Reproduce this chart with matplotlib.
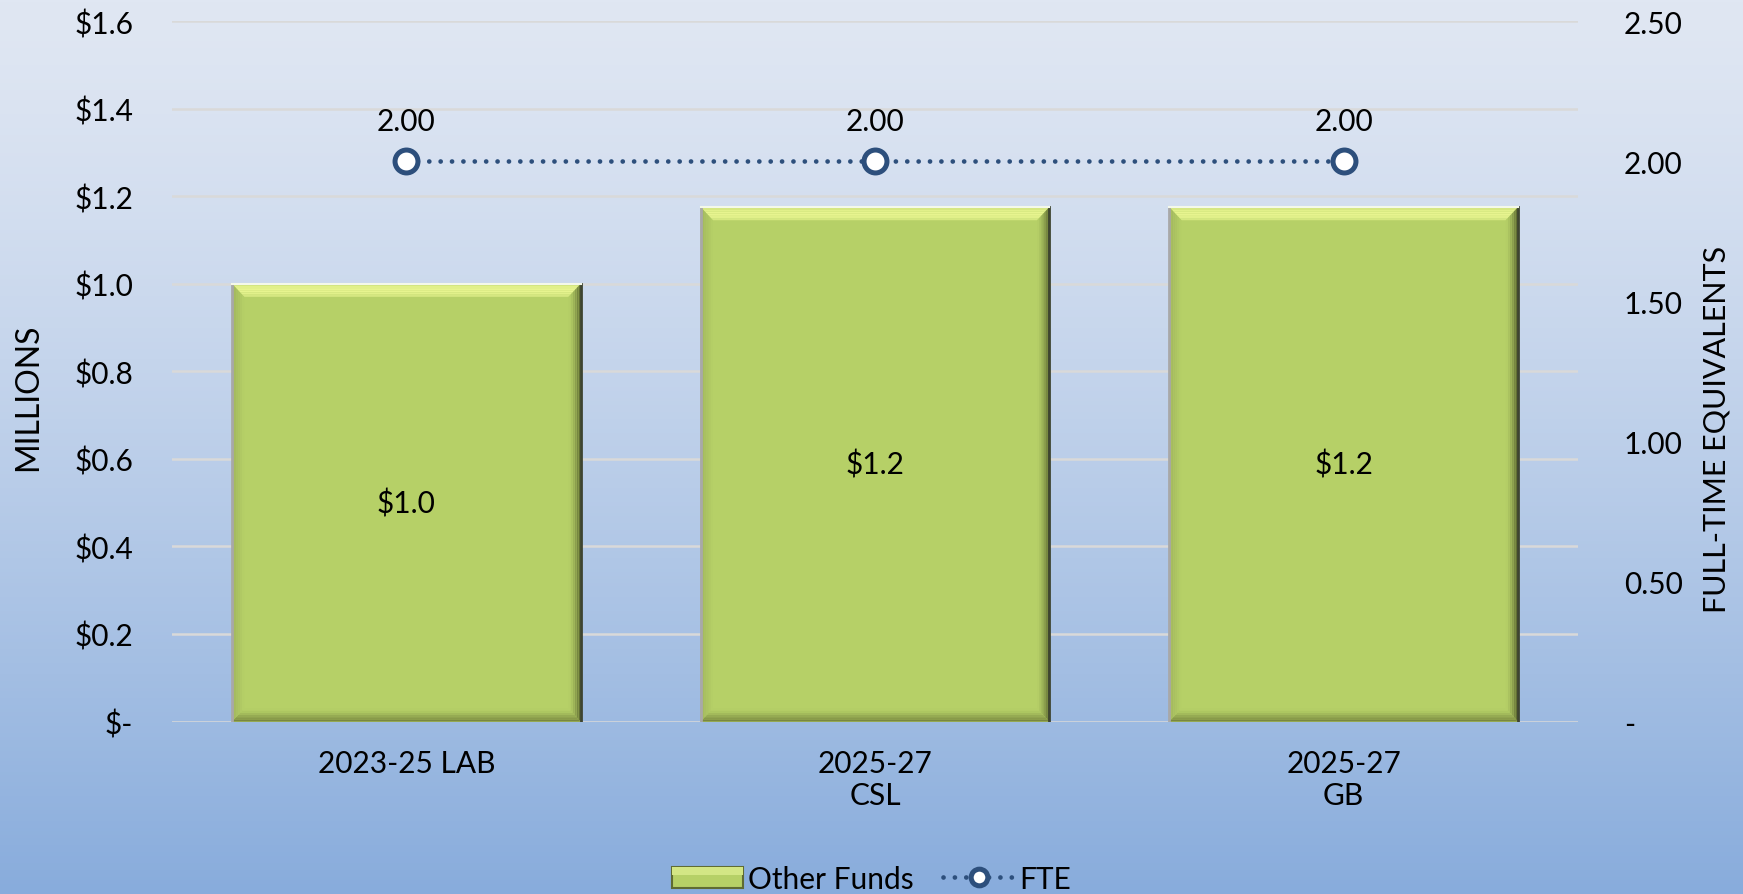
import numpy as np
import matplotlib.pyplot as plt
from matplotlib.patches import Polygon, Rectangle
from matplotlib.lines import Line2D
from matplotlib.legend_handler import HandlerBase
from matplotlib.colors import to_rgb

# data
categories = ['2023-25 LAB', '2025-27\nCSL', '2025-27\nGB']
other_funds = [1.0, 1.175, 1.175]      # millions
fte = [2.0, 2.0, 2.0]
fund_labels = ['$1.0', '$1.2', '$1.2']
fte_labels = ['2.00', '2.00', '2.00']
left_tick_vals = [0, 0.2, 0.4, 0.6, 0.8, 1.0, 1.2, 1.4, 1.6]
left_tick_text = ['$-', '$0.2', '$0.4', '$0.6', '$0.8', '$1.0', '$1.2', '$1.4', '$1.6']
right_tick_vals = [0, 0.5, 1.0, 1.5, 2.0, 2.5]
right_tick_text = ['-', '0.50', '1.00', '1.50', '2.00', '2.50']

GREEN = '#b6d067'
NAVY = '#2d4f7c'
FS = 21.5

plt.rcParams['font.family'] = ['Lato', 'DejaVu Sans']

fig = plt.figure(figsize=(17.43, 8.95), dpi=100)

# background gradient
bg = fig.add_axes([0, 0, 1, 1], zorder=-10)
grad = np.linspace(0, 1, 256).reshape(-1, 1)
top = np.array([224, 231, 243]) / 255
bot = np.array([136, 172, 220]) / 255
img = top + (bot - top) * grad[:, :, None] ** 1.3
bg.imshow(img, aspect='auto', extent=[0, 1, 0, 1])
bg.axis('off')

ax = fig.add_axes([0.0987, 0.1927, 0.8066, 0.7827])
ax.set_facecolor('none')
x = np.arange(len(categories))
width = 0.744

bars = ax.bar(x, other_funds, width, color=GREEN, zorder=3, linewidth=0)


def mix(c1, c2, t):
    a, b = np.array(to_rgb(c1)), np.array(to_rgb(c2))
    return a + (b - a) * t


# bevel effect on each bar (stepped gradient strips)
bx_ = 0.026
by_ = 0.03
n = 6
for b in bars:
    x0, y0 = b.get_x(), b.get_y()
    x1, y1 = x0 + b.get_width(), y0 + b.get_height()
    for k in range(n):
        a, c = k / n, (k + 1) / n
        t = 1 - (k + 0.5) / n      # 1 at outer edge
        # top
        ax.add_patch(Polygon([(x0 + bx_ * a, y1 - by_ * a), (x1 - bx_ * a, y1 - by_ * a),
                              (x1 - bx_ * c, y1 - by_ * c), (x0 + bx_ * c, y1 - by_ * c)],
                             closed=True, color=mix(GREEN, '#e8f590', 0.5 + 0.5 * np.sin(np.pi * (k + 0.5) / n)),
                             lw=0, zorder=4))
        # right
        ax.add_patch(Polygon([(x1 - bx_ * a, y1 - by_ * a), (x1 - bx_ * a, y0 + by_ * a),
                              (x1 - bx_ * c, y0 + by_ * c), (x1 - bx_ * c, y1 - by_ * c)],
                             closed=True, color=mix(GREEN, '#55602c', t ** 1.5), lw=0, zorder=4))
        # bottom
        ax.add_patch(Polygon([(x0 + bx_ * a, y0 + by_ * a), (x1 - bx_ * a, y0 + by_ * a),
                              (x1 - bx_ * c, y0 + by_ * c), (x0 + bx_ * c, y0 + by_ * c)],
                             closed=True, color=mix(GREEN, '#6f7d3a', t ** 1.5), lw=0, zorder=4))
        # left
        ax.add_patch(Polygon([(x0 + bx_ * a, y0 + by_ * a), (x0 + bx_ * a, y1 - by_ * a),
                              (x0 + bx_ * c, y1 - by_ * c), (x0 + bx_ * c, y0 + by_ * c)],
                             closed=True, color=mix(GREEN, '#9fb45c', t), lw=0, zorder=4))
    ax.plot([x0, x0], [y0, y1], color='#a8a8a8', lw=2, zorder=5)
    ax.plot([x1, x1], [y0, y1], color='#3e4430', lw=2, zorder=5)
    ax.plot([x0, x1], [y1, y1], color='#f4f8ea', lw=1.5, zorder=5)

for xi, v, t in zip(x, other_funds, fund_labels):
    ax.text(xi, v / 2, t, ha='center', va='center', fontsize=FS, color='black', zorder=6)

ax.set_xlim(-0.5, len(categories) - 0.5)
ax.set_ylim(0, 1.6)
ax.set_yticks(left_tick_vals)
ax.set_yticklabels(left_tick_text, fontsize=FS)
ax.set_xticks(x)
ax.set_xticklabels(categories, fontsize=FS, linespacing=1.15)
ax.tick_params(axis='both', length=0)
ax.tick_params(axis='y', pad=28)
ax.tick_params(axis='x', pad=20)
ax.grid(axis='y', color='#d9d9d9', lw=1.8, zorder=0)
for s in ax.spines.values():
    s.set_visible(False)

ax2 = ax.twinx()
ax2.set_ylim(0, 2.5)
line, = ax2.plot(x, fte, color=NAVY, lw=3.4, linestyle=(0, (0.01, 2.4)),
                 dash_capstyle='round', marker='o', markersize=16.5,
                 markerfacecolor='white', markeredgecolor=NAVY, markeredgewidth=3.6,
                 zorder=5)
for xi, v, t in zip(x, fte, fte_labels):
    ax2.annotate(t, (xi, v), xytext=(0, 29), textcoords='offset points',
                 ha='center', va='center', fontsize=FS, color='black')
ax2.set_yticks(right_tick_vals)
ax2.set_yticklabels(right_tick_text, fontsize=FS)
ax2.tick_params(axis='y', length=0, pad=33)
for s in ax2.spines.values():
    s.set_visible(False)

fig.text(0.016, 0.556, 'MILLIONS', rotation=90, ha='center', va='center', fontsize=FS + 1.5)
fig.text(0.985, 0.52, 'FULL-TIME EQUIVALENTS', rotation=90, ha='center', va='center',
         fontsize=FS + 0.5)


class BevelHandler(HandlerBase):
    def create_artists(self, legend, orig, xd, yd, w, h, fontsize, trans):
        r = Rectangle((xd, yd), w, h, facecolor=GREEN, edgecolor='#5f6b33', lw=1.5,
                      transform=trans)
        t = Rectangle((xd, yd + h * 0.62), w, h * 0.38, facecolor='#d3e685', lw=0,
                      transform=trans)
        return [r, t]


fund_handle = Rectangle((0, 0), 1, 1)
fte_handle = Line2D([], [], color=NAVY, lw=3.4, linestyle=(0, (0.01, 2.4)),
                    dash_capstyle='round', marker='o', markersize=12,
                    markerfacecolor='white', markeredgecolor=NAVY, markeredgewidth=3.6)
fig.legend([fund_handle, fte_handle], ['Other Funds', 'FTE'], loc='center',
           bbox_to_anchor=(0.5, 0.017), ncol=2, frameon=False, fontsize=FS,
           handlelength=2.4, handletextpad=0.15, columnspacing=1.0,
           handler_map={Rectangle: BevelHandler()})

fig.savefig('out.png', dpi=100)
